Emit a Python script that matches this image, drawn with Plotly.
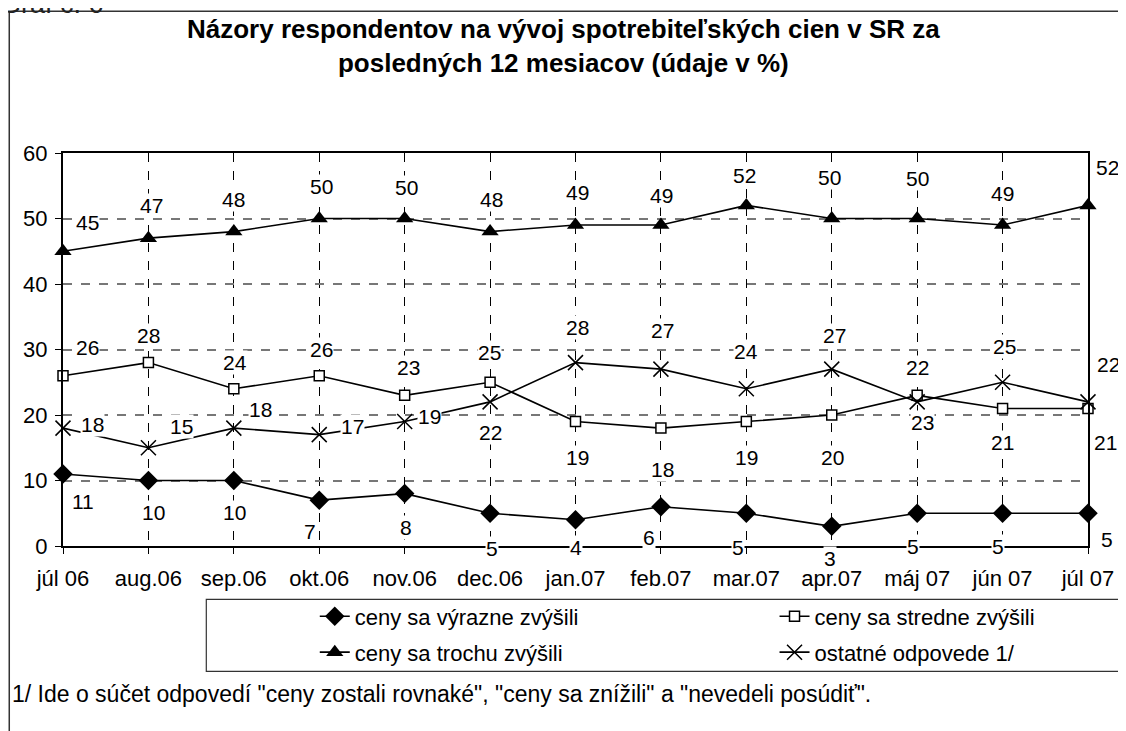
# Názory respondentov na vývoj spotrebiteľských cien - line chart

import plotly.graph_objects as go

# Data
months = ['júl 06', 'aug.06', 'sep.06', 'okt.06', 'nov.06', 'dec.06', 'jan.07',
          'feb.07', 'mar.07', 'apr.07', 'máj 07', 'jún 07', 'júl 07']
vyrazne = [11, 10, 10, 7, 8, 5, 4, 6, 5, 3, 5, 5, 5]
stredne = [26, 28, 24, 26, 23, 25, 19, 18, 19, 20, 23, 21, 21]
trochu = [45, 47, 48, 50, 50, 48, 49, 49, 52, 50, 50, 49, 52]
ostatne = [18, 15, 18, 17, 19, 22, 28, 27, 24, 27, 22, 25, 22]

names = ['ceny sa výrazne zvýšili', 'ceny sa stredne zvýšili',
         'ceny sa trochu zvýšili', 'ostatné odpovede 1/']

title_text = 'Názory respondentov na vývoj spotrebiteľských cien v SR za<br>posledných 12 mesiacov (údaje v %)'
note_text = '1/ Ide o súčet odpovedí "ceny zostali rovnaké", "ceny sa znížili" a "nevedeli posúdiť".'

# Label offsets (pixels) for each series
off_vyr = ([20, 5, 1, -9, 1, 2, 0, -12, -8, -2, -4, -5, 19],
           [-28, -32, -32, -31, -34, -35, -28, -31, -34, -32, -33, -33, -26])
off_str = ([24, 0, 1, 2, 4, -1, 2, 2, 0, 1, 5, 0, 17],
           [28, 27, 26, 26, 28, 30, -36, -41, -36, -42, -27, -34, -34])
off_tro = ([24, 3, 0, 2, 2, 1, 2, 1, -2, -2, 0, 0, 19],
           [29, 33, 32, 32, 31, 32, 33, 30, 30, 41, 40, 32, 38])
off_ost = ([29, 33, 27, 33, 25, 0, 2, 2, 0, 3, 0, 2, 20],
           [4, 21, 19, 8, 5, -31, 35, 39, 37, 34, 34, 36, 37])

FONT = 'Liberation Sans, Arial, sans-serif'

# page is drawn with an 8px body margin, so work in screen pixels and shift
OFF = 8
W, H = 1126 - OFF, 731 - OFF
L, R, T, B = 63, 1093, 153, 546.5   # plot area, screen pixels


def px_x(p):
    return (p - L) / (R - L)


def px_y(p):
    return 1 + (T - p) / (B - T)


line = dict(color='black', width=1.6)
fig = go.Figure()
fig.add_trace(go.Scatter(x=months, y=vyrazne, name=names[0], mode='lines+markers',
                         line=line, cliponaxis=False, legend='legend',
                         marker=dict(symbol='diamond', size=15, color='black')))
fig.add_trace(go.Scatter(x=months, y=stredne, name=names[1], mode='lines+markers',
                         line=line, cliponaxis=False, legend='legend2',
                         marker=dict(symbol='square', size=10, color='white',
                                     line=dict(color='black', width=1.5))))
fig.add_trace(go.Scatter(x=months, y=trochu, name=names[2], mode='lines+markers',
                         line=line, cliponaxis=False, legend='legend3',
                         marker=dict(symbol='triangle-up', size=15, color='black')))
fig.add_trace(go.Scatter(x=months, y=ostatne, name=names[3], mode='lines+markers',
                         line=line, cliponaxis=False, legend='legend4',
                         marker=dict(symbol='x-thin-open', size=15,
                                     line=dict(color='black', width=1.5))))

# data labels
annotations = []
for vals, off in [(vyrazne, off_vyr), (stredne, off_str), (trochu, off_tro), (ostatne, off_ost)]:
    for m, v, dx, dy in zip(months, vals, off[0], off[1]):
        annotations.append(dict(x=m, y=v, text=str(v), showarrow=False,
                                xshift=dx, yshift=dy, bgcolor='white', borderpad=0,
                                font=dict(family=FONT, size=21, color='black')))

annotations.append(dict(xref='paper', yref='paper', x=px_x(566), y=px_y(46),
                        xanchor='center', yanchor='middle',
                        text='<b>' + title_text + '</b>', showarrow=False,
                        font=dict(family=FONT, size=26, color='black')))
annotations.append(dict(xref='paper', yref='paper', x=px_x(10), y=px_y(695),
                        xanchor='left', yanchor='middle', text=note_text, showarrow=False,
                        font=dict(family=FONT, size=23, color='black')))
annotations.append(dict(xref='paper', yref='paper', x=px_x(-2), y=px_y(4),
                        xanchor='left', yanchor='middle', text='Graf č. 6', showarrow=False,
                        font=dict(family=FONT, size=27, color='#222222')))

shapes = [
    # outer frame
    dict(type='rect', xref='paper', yref='paper', x0=px_x(9), x1=px_x(1140),
         y0=px_y(760), y1=px_y(11), line=dict(color='#333333', width=1.5), layer='below'),
    # legend box
    dict(type='rect', xref='paper', yref='paper', x0=px_x(207), x1=px_x(1140),
         y0=px_y(672), y1=px_y(600), line=dict(color='#333333', width=1.2), layer='below'),
]

leg = dict(orientation='h', xanchor='left', yanchor='middle', bgcolor='rgba(0,0,0,0)',
           font=dict(family=FONT, size=22, color='black'))

fig.update_layout(
    width=W, height=H,
    margin=dict(l=L - OFF, r=W - (R - OFF), t=T - OFF, b=H - (B - OFF)),
    paper_bgcolor='white', plot_bgcolor='white',
    font=dict(family=FONT, size=22, color='black'),
    showlegend=True,
    legend=dict(leg, x=px_x(316), y=px_y(617)),
    legend2=dict(leg, x=px_x(778), y=px_y(617)),
    legend3=dict(leg, x=px_x(316), y=px_y(653)),
    legend4=dict(leg, x=px_x(778), y=px_y(653)),
    annotations=annotations,
    shapes=shapes,
)
fig.update_xaxes(type='category', range=[0, 12], showline=True, linecolor='black',
                 linewidth=2, mirror=True, ticks='outside', ticklen=6, tickcolor='black',
                 ticklabelstandoff=6,
                 showgrid=True, gridcolor='black', gridwidth=1, griddash='dash',
                 tickfont=dict(family=FONT, size=22, color='black'))
fig.update_yaxes(range=[0, 60], dtick=10, showline=True, linecolor='black',
                 linewidth=2, mirror=True, ticks='outside', ticklen=6, tickcolor='black',
                 ticklabelstandoff=3,
                 showgrid=True, gridcolor='#777777', gridwidth=1.5, griddash='dash',
                 zeroline=False, tickfont=dict(family=FONT, size=22, color='black'))

fig.write_html('out.html')
